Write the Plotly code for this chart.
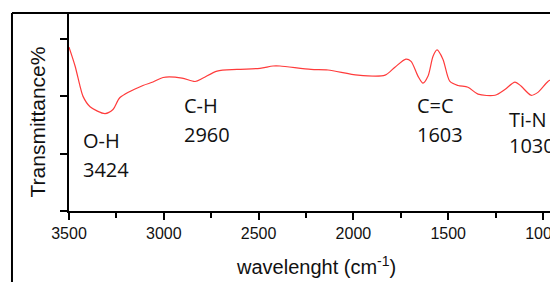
import plotly.graph_objects as go

# Spectrum
wavenumber = [3500, 3468, 3442, 3426, 3389, 3310, 3268, 3231, 3110, 3057, 3004, 2904, 2835,
              2793, 2719, 2614, 2493, 2424, 2387, 2224, 2134, 1976, 1833, 1781, 1723, 1696,
              1659, 1633, 1607, 1580, 1559, 1528, 1491, 1448, 1396, 1343, 1253, 1201, 1148,
              1116, 1063, 1027, 974, 937, 921]
transmittance = [2.86, 2.53, 2.18, 2.00, 1.82, 1.70, 1.77, 1.98, 2.19, 2.25, 2.33, 2.32, 2.26,
                 2.32, 2.44, 2.47, 2.49, 2.53, 2.53, 2.47, 2.46, 2.37, 2.37, 2.51, 2.65, 2.61,
                 2.35, 2.23, 2.35, 2.70, 2.81, 2.65, 2.26, 2.19, 2.16, 2.04, 2.02, 2.12, 2.25,
                 2.18, 2.02, 2.07, 2.26, 2.33, 2.36]

# Peak labels
group_labels = ["O-H", "C-H", "C=C", "Ti-N"]
peak_labels = ["3424", "2960", "1603", "1030"]
label_x = [3437, 2904, 1675, 1190]
group_y = [1.23, 1.84, 1.84, 1.59]
peak_y = [0.72, 1.335, 1.335, 1.14]

x_tick_vals = [3500, 3000, 2500, 2000, 1500, 1000]
x_tick_text = ["3500", "3000", "2500", "2000", "1500", "1000"]

x_title = "wavelenght (cm<sup>-1</sup>)"
y_title = "Transmittance%"

fig = go.Figure()
fig.add_trace(go.Scatter(
    x=wavenumber, y=transmittance, mode="lines",
    line=dict(color="#ff3b3b", width=1.2, shape="spline", smoothing=0.8),
    showlegend=False, hoverinfo="skip"))

ann_font = dict(family="Open Sans, Noto Sans, sans-serif", size=20, color="#111111")
axis_font = dict(family="Liberation Sans, Arial, sans-serif", size=20, color="#111111")
annotations = []
for lx, g, gy, p, py in zip(label_x, group_labels, group_y, peak_labels, peak_y):
    annotations.append(dict(x=lx, y=gy, xref="x", yref="y", text=g, showarrow=False,
                            xanchor="left", yanchor="middle", font=ann_font))
    annotations.append(dict(x=lx, y=py, xref="x", yref="y", text=p, showarrow=False,
                            xanchor="left", yanchor="middle", font=ann_font))
annotations.append(dict(x=0.505, y=-0.273, xref="paper", yref="paper", text=x_title,
                        showarrow=False, xanchor="center", yanchor="middle", font=axis_font))
annotations.append(dict(x=-0.0634, y=0.452, xref="paper", yref="paper", text=y_title,
                        textangle=-90, showarrow=False, xanchor="center", yanchor="middle",
                        font=dict(family="Liberation Sans, Arial, sans-serif", size=21,
                                  color="#111111")))

fig.update_layout(
    width=558, height=282,
    margin=dict(l=61, r=8, t=5, b=79, autoexpand=False),
    paper_bgcolor="white", plot_bgcolor="white",
    annotations=annotations,
    shapes=[
        dict(type="line", xref="paper", yref="paper", x0=-0.1166, x1=1.2, y0=1.0, y1=1.0,
             line=dict(color="black", width=2)),
        dict(type="line", xref="paper", yref="paper", x0=-0.1166, x1=-0.1166, y0=1.0, y1=-0.5,
             line=dict(color="black", width=2)),
    ],
    xaxis=dict(
        range=[3500, 921], showgrid=False, zeroline=False, automargin=False,
        showline=True, linecolor="black", linewidth=2,
        ticks="outside", ticklen=7, tickwidth=1.5, tickcolor="black",
        tickvals=x_tick_vals, ticktext=x_tick_text,
        tickfont=dict(family="Liberation Sans, Arial, sans-serif", size=16, color="#111111"),
        minor=dict(dtick=250, ticks="outside", ticklen=5, tickwidth=1.5, tickcolor="black"),
    ),
    yaxis=dict(
        range=[0, 3.455], showgrid=False, zeroline=False, automargin=False,
        showline=True, linecolor="black", linewidth=1.5,
        ticks="outside", ticklen=7, tickwidth=1.5, tickcolor="black",
        tickvals=[0, 1, 2, 3], showticklabels=False,
    ),
)

fig.write_html("out.html")
